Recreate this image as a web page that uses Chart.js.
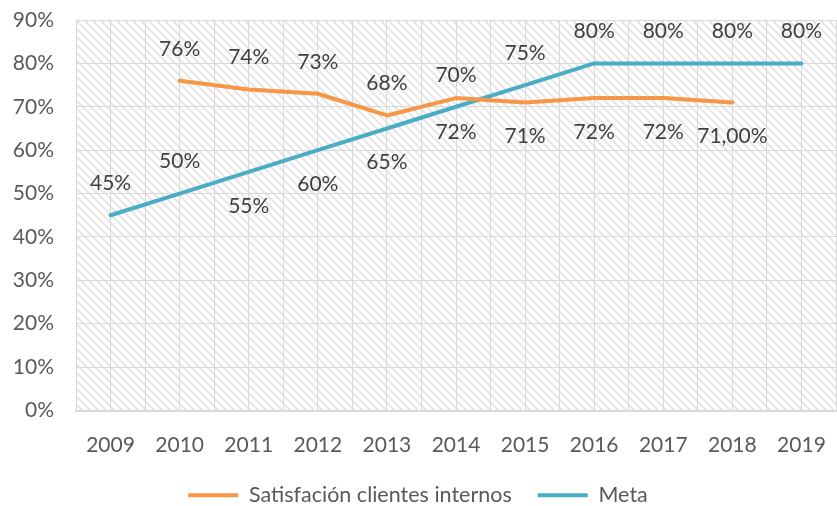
<!DOCTYPE html>
<html>
<head>
<meta charset="utf-8">
<script src="https://cdn.jsdelivr.net/npm/chart.js@4.4.1/dist/chart.umd.min.js"></script>
<style>
  html, body { margin: 0; padding: 0; background: #fff; }
  #wrap { width: 837px; height: 506px; }
</style>
</head>
<body>
<div id="wrap"><canvas id="grafico" width="837" height="506"></canvas></div>
<script>
// datos
const anios = ['2009', '2010', '2011', '2012', '2013', '2014', '2015', '2016', '2017', '2018', '2019'];
const satisfaccion = [null, 76, 74, 73, 68, 72, 71, 72, 72, 71, null];
const satisfaccionEtiquetas = ['', '76%', '74%', '73%', '68%', '72%', '71%', '72%', '72%', '71,00%', ''];
const meta = [45, 50, 55, 60, 65, 70, 75, 80, 80, 80, 80];
const yTicks = [0, 10, 20, 30, 40, 50, 60, 70, 80, 90];

const FUENTE = 'Lato, "Open Sans", sans-serif';
const GRIS = '#d9d9d9';

// fondo rayado (trama diagonal)
function crearTrama() {
    const c = document.createElement('canvas');
    c.width = 8; c.height = 8;
    const g = c.getContext('2d');
    g.fillStyle = '#fff';
    g.fillRect(0, 0, 8, 8);
    g.strokeStyle = '#e6e6e6';
    g.lineWidth = 2;
    g.beginPath();
    g.moveTo(-2, -2); g.lineTo(10, 10);
    g.moveTo(-2, 6); g.lineTo(2, 10);
    g.moveTo(6, -2); g.lineTo(10, 2);
    g.stroke();
    return c;
}

const tramaPlugin = {
    id: 'trama',
    beforeDraw(chart) {
        const { ctx, chartArea: a } = chart;
        ctx.save();
        ctx.fillStyle = ctx.createPattern(crearTrama(), 'repeat');
        ctx.fillRect(a.left, a.top, a.right - a.left, a.bottom - a.top);
        ctx.restore();
    }
};

// etiquetas de valores
const etiquetasPlugin = {
    id: 'etiquetas',
    afterDatasetsDraw(chart) {
        const ctx = chart.ctx;
        ctx.save();
        ctx.font = '21px ' + FUENTE;
        ctx.fillStyle = '#404040';
        ctx.textAlign = 'center';
        ctx.textBaseline = 'middle';
        chart.data.datasets.forEach((ds, di) => {
            const m = chart.getDatasetMeta(di);
            m.data.forEach((pt, i) => {
                if (ds.data[i] == null) return;
                const dy = ds.lado[i] === 'abajo' ? 34 : -32;
                ctx.fillText(ds.textos[i], pt.x, pt.y + dy);
            });
        });
        ctx.restore();
    }
};

new Chart(document.getElementById('grafico'), {
    type: 'line',
    data: {
        labels: anios,
        datasets: [{
            label: 'Satisfación clientes internos',
            data: satisfaccion,
            textos: satisfaccionEtiquetas,
            lado: ['', 'arriba', 'arriba', 'arriba', 'arriba', 'abajo', 'abajo', 'abajo', 'abajo', 'abajo', ''],
            borderColor: '#F79646', backgroundColor: '#F79646',
            borderWidth: 4, borderCapStyle: 'round', borderJoinStyle: 'round',
            pointRadius: 0, tension: 0
        }, {
            label: 'Meta',
            data: meta,
            textos: meta.map(v => v + '%'),
            lado: ['arriba', 'arriba', 'abajo', 'abajo', 'abajo', 'arriba', 'arriba', 'arriba', 'arriba', 'arriba', 'arriba'],
            borderColor: '#4BACC6', backgroundColor: '#4BACC6',
            borderWidth: 4, borderCapStyle: 'round', borderJoinStyle: 'round',
            pointRadius: 0, tension: 0
        }]
    },
    options: {
        responsive: false,
        animation: false,
        devicePixelRatio: 1,
        layout: { padding: { top: 20, right: 1, left: 0, bottom: -10 } },
        scales: {
            x: {
                offset: true,
                grid: { color: GRIS, lineWidth: 1, offset: false, drawTicks: true, tickLength: 22, tickColor: 'rgba(0,0,0,0)' },
                border: { color: GRIS, width: 2 },
                ticks: { color: '#595959', font: { family: FUENTE, size: 21 }, padding: 0, maxRotation: 0 },
                afterFit(s) { s.height = 48; }
            },
            x2: {
                labels: anios,
                offset: true,
                position: 'bottom',
                grid: { color: GRIS, lineWidth: 1, offset: true, drawTicks: false },
                border: { display: false },
                ticks: { display: false },
                afterFit(s) { s.height = 0; }
            },
            y: {
                min: 0, max: 90,
                afterBuildTicks(s) { s.ticks = yTicks.map(v => ({ value: v })); },
                grid: { color: GRIS, lineWidth: 1, drawTicks: true, tickLength: 22, tickColor: 'rgba(0,0,0,0)' },
                border: { display: false },
                ticks: { color: '#595959', font: { family: FUENTE, size: 21 }, padding: 0, callback: v => v + '%' },
                afterFit(s) { s.width = 76; }
            }
        },
        plugins: {
            tooltip: { enabled: false },
            legend: {
                position: 'bottom',
                labels: {
                    color: '#595959',
                    font: { family: FUENTE, size: 21.5 },
                    usePointStyle: true,
                    pointStyle: 'line',
                    pointStyleWidth: 50,
                    padding: 26
                }
            }
        }
    },
    plugins: [tramaPlugin, etiquetasPlugin]
});
</script>
</body>
</html>
